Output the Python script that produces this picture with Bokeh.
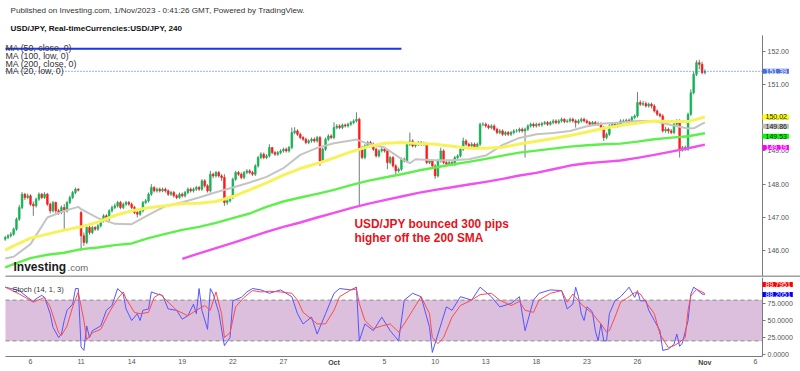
from bokeh.plotting import figure
from bokeh.models import (Range1d, FixedTicker, Label, NumeralTickFormatter, LinearAxis,
                          ColumnDataSource, BoxAnnotation)
from bokeh.layouts import column
from bokeh.embed import file_html
from bokeh.resources import INLINE

FONT = "Liberation Sans"

# ---------------- data (USD/JPY, 4h bars; bar index 0 = first bar of Sep 6) ----------
bar_index = list(range(-9, 241))
opens = [
    146.35, 146.40, 146.45,
    146.50, 146.65, 146.95, 147.30, 147.70, 147.60,
    147.65, 147.40, 147.35, 147.55, 147.70, 147.60,
    147.70, 147.40, 147.20, 147.45, 147.20, 147.15,
    147.30, 147.20, 147.45, 147.60, 147.75, 147.85,
    147.15, 146.45, 146.25, 146.70, 146.55, 146.70,
    146.65, 146.75, 146.90, 147.05, 146.95, 147.20,
    147.30, 147.35, 147.45, 147.30, 147.40, 147.45,
    147.40, 147.30, 147.15, 147.10, 147.20, 147.45,
    147.50, 147.70, 147.90, 147.80, 147.85, 147.80,
    147.85, 147.80, 147.70, 147.75, 147.65, 147.60,
    147.70, 147.65, 147.75, 147.85, 147.80, 147.85,
    147.90, 147.85, 148.10, 147.95, 147.80, 148.30,
    148.25, 148.35, 148.25, 148.20, 147.45, 147.50,
    147.60, 148.15, 148.35, 148.30, 148.20, 148.35,
    148.40, 148.35, 148.30, 148.55, 148.80, 148.90,
    148.80, 148.85, 149.10, 148.95, 148.90, 148.95,
    149.00, 149.05, 149.00, 149.10, 149.55, 149.60,
    149.50, 149.40, 149.35, 149.25, 149.30, 149.35,
    149.30, 149.40, 148.70, 149.05, 149.35, 149.45,
    149.40, 149.70, 149.75, 149.70, 149.78, 149.75,
    149.80, 149.85, 149.90, 149.95, 149.05, 148.80,
    149.15, 149.25, 149.20, 149.05, 148.85, 149.00,
    149.05, 149.00, 148.65, 148.80, 148.55, 148.40,
    148.45, 148.75, 148.70, 149.20, 149.30, 149.15,
    149.20, 149.25, 149.20, 149.22, 148.65, 148.70,
    148.55, 148.25, 148.70, 149.00, 148.65, 148.60,
    148.65, 148.60, 148.80, 148.85, 149.05, 149.30,
    149.20, 149.15, 149.20, 149.10, 149.20, 149.80,
    149.80, 149.75, 149.70, 149.75, 149.65, 149.55,
    149.60, 149.50, 149.55, 149.50, 149.55, 149.60,
    149.60, 149.65, 149.60, 149.65, 149.75, 149.80,
    149.75, 149.80, 149.78, 149.82, 149.85, 149.80,
    149.85, 149.90, 149.85, 149.90, 149.95, 149.88,
    149.90, 149.95, 149.90, 149.85, 149.90, 149.95,
    149.90, 149.85, 149.80, 149.85, 149.80, 149.82,
    149.70, 149.40, 149.50, 149.75, 149.80, 149.75,
    149.80, 149.90, 149.88, 149.92, 149.90, 150.00,
    150.05, 150.45, 150.40, 150.42, 150.35, 150.40,
    150.35, 150.20, 150.10, 150.05, 149.60, 149.65,
    149.60, 149.55, 149.80, 149.90, 149.05, 149.10,
    149.05, 150.10, 150.75, 151.30, 151.65, 151.60,
    151.35,
]
closes = [
    146.40, 146.45, 146.50,
    146.65, 146.95, 147.30, 147.70, 147.60, 147.65,
    147.40, 147.35, 147.55, 147.70, 147.60, 147.70,
    147.40, 147.20, 147.45, 147.20, 147.15, 147.30,
    147.20, 147.45, 147.60, 147.75, 147.85, 147.82,
    146.45, 146.25, 146.70, 146.55, 146.70, 146.65,
    146.75, 146.90, 147.05, 146.95, 147.20, 147.30,
    147.35, 147.45, 147.30, 147.40, 147.45, 147.40,
    147.30, 147.15, 147.10, 147.20, 147.45, 147.50,
    147.70, 147.90, 147.80, 147.85, 147.80, 147.85,
    147.80, 147.70, 147.75, 147.65, 147.60, 147.70,
    147.65, 147.75, 147.85, 147.80, 147.85, 147.90,
    147.85, 148.10, 147.95, 147.80, 148.30, 148.25,
    148.35, 148.25, 148.20, 147.45, 147.50, 147.60,
    148.15, 148.35, 148.30, 148.20, 148.35, 148.40,
    148.35, 148.30, 148.55, 148.80, 148.90, 148.80,
    148.85, 149.10, 148.95, 148.90, 148.95, 149.00,
    149.05, 149.00, 149.10, 149.55, 149.60, 149.50,
    149.40, 149.35, 149.25, 149.30, 149.35, 149.30,
    149.40, 148.70, 149.05, 149.35, 149.45, 149.40,
    149.70, 149.75, 149.70, 149.78, 149.75, 149.80,
    149.85, 149.90, 149.95, 149.05, 148.80, 149.15,
    149.25, 149.20, 149.05, 148.85, 149.00, 149.05,
    149.00, 148.65, 148.80, 148.55, 148.40, 148.45,
    148.75, 148.70, 149.20, 149.30, 149.15, 149.20,
    149.25, 149.20, 149.22, 148.65, 148.70, 148.55,
    148.25, 148.70, 149.00, 148.65, 148.60, 148.65,
    148.60, 148.80, 148.85, 149.05, 149.30, 149.20,
    149.15, 149.20, 149.10, 149.20, 149.80, 149.80,
    149.75, 149.70, 149.75, 149.65, 149.55, 149.60,
    149.50, 149.55, 149.50, 149.55, 149.60, 149.60,
    149.65, 149.60, 149.65, 149.75, 149.80, 149.75,
    149.80, 149.78, 149.82, 149.85, 149.80, 149.85,
    149.90, 149.85, 149.90, 149.95, 149.88, 149.90,
    149.95, 149.90, 149.85, 149.90, 149.95, 149.90,
    149.85, 149.80, 149.85, 149.80, 149.82, 149.70,
    149.40, 149.50, 149.75, 149.80, 149.75, 149.80,
    149.90, 149.88, 149.92, 149.90, 150.00, 150.05,
    150.45, 150.40, 150.42, 150.35, 150.40, 150.35,
    150.20, 150.10, 150.05, 149.60, 149.65, 149.60,
    149.55, 149.80, 149.90, 149.05, 149.10, 149.05,
    150.10, 150.75, 151.30, 151.65, 151.60, 151.35,
    151.39,
]
highs = [
    146.45, 146.50, 146.56,
    146.70, 147.00, 147.38, 147.76, 147.74, 147.72,
    147.70, 147.48, 147.60, 147.75, 147.74, 147.76,
    147.74, 147.45, 147.50, 147.48, 147.26, 147.36,
    147.40, 147.50, 147.66, 147.80, 147.90, 147.88,
    147.20, 146.55, 146.78, 146.76, 146.75, 146.74,
    146.80, 146.96, 147.10, 147.10, 147.25, 147.36,
    147.42, 147.50, 147.50, 147.45, 147.50, 147.50,
    147.45, 147.35, 147.20, 147.25, 147.50, 147.56,
    147.75, 148.00, 147.94, 147.90, 147.90, 147.90,
    147.90, 147.84, 147.80, 147.80, 147.70, 147.75,
    147.75, 147.80, 147.90, 147.90, 147.90, 147.95,
    147.95, 148.15, 148.15, 148.00, 148.40, 148.35,
    148.40, 148.40, 148.30, 148.30, 147.58, 147.65,
    148.20, 148.40, 148.40, 148.35, 148.40, 148.45,
    148.45, 148.40, 148.60, 148.85, 148.96, 148.95,
    148.90, 149.20, 149.12, 149.00, 149.00, 149.05,
    149.10, 149.10, 149.15, 149.70, 149.71, 149.65,
    149.55, 149.45, 149.40, 149.35, 149.40, 149.40,
    149.45, 149.45, 149.10, 149.40, 149.50, 149.50,
    149.86, 149.80, 149.80, 149.82, 149.82, 149.85,
    149.90, 149.95, 150.16, 150.00, 149.15, 149.20,
    149.30, 149.30, 149.25, 149.10, 149.05, 149.10,
    149.10, 149.05, 148.85, 148.85, 148.60, 148.50,
    148.80, 148.80, 149.25, 149.55, 149.35, 149.26,
    149.30, 149.30, 149.28, 149.25, 148.75, 148.75,
    148.60, 148.76, 149.10, 149.05, 148.70, 148.70,
    148.70, 148.85, 148.90, 149.10, 149.40, 149.35,
    149.25, 149.26, 149.25, 149.25, 149.85, 149.86,
    149.85, 149.80, 149.80, 149.80, 149.70, 149.65,
    149.65, 149.60, 149.60, 149.60, 149.65, 149.66,
    149.70, 149.70, 149.70, 149.80, 149.85, 149.85,
    149.85, 149.85, 149.87, 149.90, 149.90, 149.90,
    149.95, 149.95, 149.95, 150.00, 149.98, 149.95,
    150.00, 150.00, 149.95, 149.95, 150.00, 150.00,
    149.95, 149.90, 149.90, 149.90, 149.88, 149.86,
    149.75, 149.55, 149.80, 149.85, 149.85, 149.85,
    149.95, 149.95, 149.97, 149.97, 150.05, 150.10,
    150.77, 150.52, 150.50, 150.48, 150.45, 150.45,
    150.40, 150.25, 150.15, 150.10, 149.72, 149.70,
    149.66, 149.85, 149.95, 149.95, 149.15, 149.16,
    150.15, 150.85, 151.38, 151.72, 151.74, 151.68,
    151.45,
]
lows = [
    146.30, 146.35, 146.40,
    146.45, 146.60, 146.90, 147.25, 147.52, 147.55,
    147.35, 147.05, 147.30, 147.50, 147.55, 147.56,
    147.35, 147.12, 147.15, 147.12, 147.08, 147.10,
    146.60, 147.15, 147.40, 147.55, 147.70, 147.78,
    146.00, 146.15, 146.20, 146.48, 146.50, 146.60,
    146.60, 146.70, 146.85, 146.90, 146.90, 147.15,
    147.25, 147.30, 147.25, 147.25, 147.35, 147.35,
    147.25, 147.10, 147.00, 147.05, 147.15, 147.40,
    147.45, 147.65, 147.75, 147.75, 147.75, 147.76,
    147.75, 147.65, 147.65, 147.60, 147.55, 147.56,
    147.60, 147.60, 147.70, 147.75, 147.75, 147.80,
    147.80, 147.80, 147.90, 147.75, 147.75, 148.18,
    148.20, 148.20, 148.10, 147.35, 147.38, 147.45,
    147.55, 148.10, 148.25, 148.15, 148.15, 148.30,
    148.30, 148.25, 148.25, 148.50, 148.75, 148.75,
    148.75, 148.80, 148.90, 148.85, 148.85, 148.90,
    148.95, 148.95, 148.95, 149.05, 149.50, 149.45,
    149.35, 149.30, 149.20, 149.20, 149.25, 149.25,
    149.25, 148.55, 148.65, 149.00, 149.30, 149.35,
    149.35, 149.65, 149.65, 149.65, 149.70, 149.70,
    149.75, 149.80, 149.85, 147.35, 148.75, 148.75,
    149.10, 149.15, 149.00, 148.80, 148.80, 148.95,
    148.95, 148.45, 148.60, 148.50, 148.30, 148.35,
    148.40, 148.65, 148.65, 149.15, 149.10, 149.10,
    149.15, 149.15, 149.15, 148.60, 148.60, 148.50,
    148.16, 148.20, 148.65, 148.60, 148.55, 148.55,
    148.55, 148.55, 148.75, 148.80, 149.00, 149.15,
    149.10, 149.10, 149.05, 149.05, 149.15, 149.74,
    149.70, 149.65, 149.65, 149.60, 149.50, 149.50,
    149.45, 149.45, 149.45, 149.45, 149.50, 149.55,
    149.55, 149.55, 148.80, 149.60, 149.70, 149.70,
    149.70, 149.72, 149.73, 149.78, 149.75, 149.76,
    149.80, 149.80, 149.80, 149.85, 149.83, 149.84,
    149.85, 149.85, 149.70, 149.80, 149.85, 149.85,
    149.80, 149.75, 149.75, 149.75, 149.75, 149.65,
    149.30, 149.35, 149.45, 149.70, 149.70, 149.70,
    149.75, 149.83, 149.83, 149.85, 149.85, 149.95,
    150.00, 150.35, 150.35, 150.30, 150.30, 150.28,
    150.15, 150.05, 150.00, 149.55, 149.55, 149.52,
    149.50, 149.50, 149.75, 148.80, 148.98, 149.00,
    149.00, 150.05, 150.70, 151.25, 151.45, 151.30,
    151.30,
]

# moving averages read at the first bar of each trading day
ma_bars = [-9, -6, 0, 6, 12, 18, 24, 30, 36, 42, 48, 54, 60, 66, 72, 78, 84, 90, 96, 102,
           108, 114, 120, 126, 132, 138, 144, 150, 156, 162, 168, 174, 180, 186, 192, 198,
           204, 210, 216, 222, 228, 234, 240]
ma50_close = [146.02, 146.15, 146.38, 146.50, 146.62, 146.72, 146.86, 147.06, 147.20, 147.29,
              147.35, 147.42, 147.43, 147.48, 147.63, 147.83, 148.04, 148.27, 148.47, 148.62,
              148.79, 148.97, 149.12, 149.23, 149.25, 149.22, 149.20, 149.14, 149.08, 149.08,
              149.11, 149.21, 149.29, 149.37, 149.46, 149.57, 149.68, 149.76, 149.84, 149.90,
              149.88, 149.88, 150.02]
ma100_low = [145.50, 145.60, 145.78, 145.88, 145.94, 146.05, 146.10, 146.17, 146.22, 146.38,
             146.51, 146.63, 146.72, 146.84, 146.98, 147.12, 147.32, 147.48, 147.60, 147.71,
             147.83, 147.97, 148.10, 148.20, 148.30, 148.41, 148.50, 148.59, 148.67, 148.76,
             148.86, 148.95, 149.01, 149.07, 149.13, 149.17, 149.20, 149.22, 149.28, 149.35,
             149.40, 149.44, 149.53]
ma200_bars = [54, 60, 66, 72, 78, 84, 90, 96, 102, 108, 114, 120, 126, 132, 138, 144, 150,
              156, 162, 168, 174, 180, 186, 192, 198, 204, 210, 216, 222, 228, 234, 240]
ma200_close = [145.76, 145.92, 146.08, 146.24, 146.40, 146.57, 146.72, 146.85, 147.00, 147.14,
               147.28, 147.41, 147.52, 147.63, 147.74, 147.83, 147.91, 147.99, 148.07, 148.16,
               148.26, 148.34, 148.45, 148.56, 148.63, 148.67, 148.71, 148.79, 148.88, 148.98,
               149.08, 149.19]
ma20_low = [(-9, 145.77), (-6, 145.82), (0, 146.20), (6, 147.00), (12, 147.20), (17, 147.32),
            (18, 147.25), (24, 146.98), (30, 146.81), (36, 146.80), (42, 147.08), (48, 147.34),
            (54, 147.46), (60, 147.60), (66, 147.76), (72, 147.90), (78, 148.05), (84, 148.22),
            (90, 148.48), (96, 148.88), (102, 149.09), (108, 149.23), (114, 149.31), (116, 149.34),
            (120, 149.22), (126, 149.10), (132, 148.76), (135, 148.63), (137, 148.75), (144, 148.72),
            (150, 148.72), (156, 148.75), (162, 148.86), (168, 149.18), (174, 149.39), (180, 149.50),
            (186, 149.54), (192, 149.60), (198, 149.74), (204, 149.82), (210, 149.85), (216, 149.90),
            (222, 149.90), (228, 149.78), (234, 149.67), (236, 149.68), (240, 149.86)]

stoch_k = [(-9, 99), (-7, 97), (-4, 94), (-1, 84), (1, 78), (2, 82), (4, 87), (5, 84), (7, 60),
           (8, 40), (10, 25), (11, 30), (12, 50), (13, 65), (15, 74), (16, 97), (17, 97), (18, 11),
           (19, 6), (20, 42), (21, 25), (22, 35), (25, 42), (27, 65), (29, 72), (31, 97), (33, 89),
           (34, 67), (36, 50), (38, 60), (39, 50), (40, 65), (42, 67), (43, 92), (45, 89), (47, 87),
           (49, 67), (52, 65), (54, 52), (56, 57), (58, 74), (59, 60), (60, 97), (61, 65), (63, 37),
           (64, 97), (65, 89), (67, 62), (69, 13), (71, 25), (72, 79), (75, 84), (77, 92), (79, 97),
           (82, 95), (85, 90), (89, 95), (93, 85), (95, 60), (97, 45), (100, 55), (102, 30),
           (105, 60), (108, 90), (110, 97), (114, 95), (116, 99), (117, 20), (119, 45), (122, 35),
           (125, 55), (128, 35), (131, 20), (133, 80), (136, 90), (139, 85), (142, 40), (143, 3),
           (145, 30), (148, 70), (150, 65), (153, 85), (157, 80), (160, 99), (164, 85), (167, 70),
           (171, 75), (174, 85), (176, 35), (179, 80), (181, 90), (185, 95), (189, 94), (191, 67),
           (193, 74), (194, 99), (195, 85), (196, 60), (197, 50), (198, 70), (199, 67), (200, 62),
           (201, 35), (202, 20), (203, 45), (204, 20), (205, 20), (206, 60), (208, 79), (210, 85),
           (212, 94), (213, 99), (215, 84), (216, 94), (217, 79), (219, 79), (220, 65), (222, 50),
           (224, 35), (225, 6), (227, 8), (229, 15), (230, 30), (231, 12), (232, 17), (234, 50),
           (235, 89), (236, 99), (237, 96), (239, 89), (240, 88.2051)]
stoch_d = [(-9, 99), (-4, 89), (1, 77), (5, 84), (7, 70), (10, 32), (11, 28), (13, 42), (15, 70),
           (17, 92), (19, 50), (20, 22), (22, 32), (25, 37), (28, 62), (31, 82), (33, 92), (34, 82),
           (37, 62), (39, 60), (42, 62), (44, 84), (46, 89), (49, 77), (52, 65), (56, 57), (59, 65),
           (62, 72), (64, 65), (66, 92), (68, 60), (69, 25), (71, 32), (73, 70), (76, 84), (79, 94),
           (82, 92), (85, 93), (89, 92), (93, 90), (95, 80), (97, 62), (100, 52), (102, 45),
           (105, 45), (108, 65), (110, 85), (114, 95), (116, 96), (117, 75), (119, 50), (122, 38),
           (125, 42), (128, 45), (131, 33), (133, 45), (136, 65), (139, 85), (142, 60), (143, 25),
           (145, 16), (147, 25), (150, 55), (153, 72), (157, 80), (160, 88), (164, 90), (167, 80),
           (171, 72), (174, 78), (176, 65), (179, 62), (181, 80), (185, 90), (189, 94), (191, 77),
           (193, 89), (196, 74), (198, 67), (200, 60), (203, 45), (205, 33), (206, 35), (208, 55),
           (210, 77), (212, 82), (215, 91), (217, 89), (219, 77), (222, 60), (224, 30), (227, 10),
           (229, 13), (231, 18), (233, 25), (234, 65), (235, 86), (237, 96), (240, 89.7951)]

day_ticks = [0, 18, 36, 54, 72, 90, 126, 144, 162, 180, 198, 216, 258]
day_labels = ["6", "11", "14", "19", "22", "27", "5", "10", "13", "18", "23", "26", "6"]
month_ticks = [108, 240]
month_labels = ["Oct", "Nov"]
price_ticks = [146, 147, 148, 149, 150, 151, 152]
stoch_ticks = [0, 25, 50, 75]
drawn_line_price = 152.07
drawn_line_end_bar = 132

# ---------------- layout constants (data space of the two panels) ----------------
X0, X1 = -10.68, 274.02        # whole canvas width
X_LEFT = -8.9                  # left edge of the chart area
X_AX = 260.5                   # position of the price axis
P0, P1 = 145.198, 153.517      # price panel vertical extent
P_AXTOP = 152.47               # top end of the price axis line
P_SEP = 145.23                 # panel separator
S0, S1 = -25.0, 113.24         # stochastic panel vertical extent
S_AX = -2.94                   # time axis position
AX_COLOR = "#7a7a7a"
LBL_COLOR = "#555555"
TAG_PAD = dict(left=3, right=2, top=0, bottom=0)


def style_axis(ax):
    ax.axis_line_color = None
    ax.major_tick_line_color = AX_COLOR
    ax.major_tick_out = 3
    ax.major_tick_in = 0
    ax.minor_tick_line_color = None
    ax.major_label_text_font = FONT
    ax.major_label_text_font_size = "7px"
    ax.major_label_text_color = LBL_COLOR
    ax.major_label_standoff = 2


def tag(fig, yv, txt, bg, fg, yoff=0):
    fig.add_layout(Label(x=X_AX, y=yv, x_offset=0, y_offset=yoff, text=txt, text_font=FONT,
                         text_font_size="7px", text_color=fg, text_baseline="middle",
                         text_align="left", background_fill_color=bg, padding=TAG_PAD))


def txt(fig, x, y, t, size, color, bold=False):
    fig.add_layout(Label(x=x, y=y, x_units="screen", y_units="screen", text=t,
                         text_font=FONT, text_font_size=size, text_color=color,
                         text_font_style="bold" if bold else "normal",
                         text_baseline="alphabetic", text_align="left"))


# ---------------- price panel ----------------
p = figure(width=800, height=277, x_range=Range1d(X0, X1), y_range=Range1d(P0, P1),
           output_backend="svg", toolbar_location=None, x_axis_location=None,
           y_axis_location=None, min_border_left=0, min_border_right=0,
           min_border_top=0, min_border_bottom=0)
p.outline_line_color = None
p.grid.visible = False
pax = LinearAxis(fixed_location=X_AX, ticker=FixedTicker(ticks=price_ticks),
                 formatter=NumeralTickFormatter(format="0.00"))
style_axis(pax)
p.add_layout(pax, "right")
p.segment(x0=[X_AX], y0=[P_AXTOP], x1=[X_AX], y1=[P0], line_color=AX_COLOR, line_width=1)

tops = [max(o, c) for o, c in zip(opens, closes)]
bots = [min(o, c) for o, c in zip(opens, closes)]
cols = ["#12b456" if c >= o else "#ff1a1a" for o, c in zip(opens, closes)]
src = ColumnDataSource(dict(x=bar_index, h=highs, l=lows, top=tops, bot=bots, color=cols))

p.segment(x0="x", y0="l", x1="x", y1="h", source=src, line_color="#6f7d74", line_width=1)
p.vbar(x="x", width=0.62, top="top", bottom="bot", source=src,
       fill_color="color", line_color="color", line_width=0.6)

p.line(ma_bars, ma100_low, line_color="#5df04a", line_width=2.4)
p.line(ma200_bars, ma200_close, line_color="#f050f0", line_width=2.4)
p.line([b for b, v in ma20_low], [v for b, v in ma20_low], line_color="#c4c4c4", line_width=2)
p.line(ma_bars, ma50_close, line_color="#f8f25a", line_width=3)

p.segment(x0=[X_LEFT], y0=[drawn_line_price], x1=[drawn_line_end_bar], y1=[drawn_line_price],
          line_color="#1836ee", line_width=2)
p.segment(x0=[X_LEFT], y0=[closes[-1]], x1=[X_AX], y1=[closes[-1]],
          line_color="#3f63dc", line_width=1, line_dash="1 2")
p.segment(x0=[X_LEFT], y0=[P_SEP], x1=[X1], y1=[P_SEP], line_color="#a0a0a0", line_width=2)

tag(p, closes[-1], f"{closes[-1]:.2f}", "#4a6ee0", "white")
tag(p, ma50_close[-1], f"{ma50_close[-1]:.2f}", "#ffff00", "#222222")
tag(p, 149.86, "149.86", "#c0c0c0", "#222222", -4)
tag(p, ma100_low[-1], f"{ma100_low[-1]:.2f}", "#00ff00", "#222222", -3)
tag(p, ma200_close[-1], f"{ma200_close[-1]:.2f}", "#ff00ff", "white", -3)

txt(p, 10, 267, "Published on Investing.com, 1/Nov/2023 - 0:41:26 GMT, Powered by TradingView.", "8.1px", "#333333")
txt(p, 10, 249.3, "USD/JPY, Real-timeCurrencies:USD/JPY, 240", "8.1px", "#111111", True)
txt(p, 5, 229.5, "MA (50, close, 0)", "8.8px", "#333333")
txt(p, 5, 221.7, "MA (100, low, 0)", "8.8px", "#333333")
txt(p, 5, 213.7, "MA (200, close, 0)", "8.8px", "#333333")
txt(p, 5, 206.2, "MA (20, low, 0)", "8.8px", "#333333")
txt(p, 13, 10.3, "Investing", "12px", "#1b1b1b", True)
txt(p, 67, 10.3, ".com", "9.5px", "#666666")
txt(p, 354, 53.7, "USD/JPY bounced 300 pips", "11.9px", "#e3141c", True)
txt(p, 354, 39.7, "higher off the 200 SMA", "11.9px", "#e3141c", True)

# ---------------- stochastic panel ----------------
s = figure(width=800, height=94, x_range=p.x_range, y_range=Range1d(S0, S1),
           output_backend="svg", toolbar_location=None, x_axis_location=None,
           y_axis_location=None, min_border_left=0, min_border_right=0,
           min_border_top=0, min_border_bottom=0)
s.outline_line_color = None
s.grid.visible = False
s.add_layout(BoxAnnotation(left=X_LEFT, right=X_AX, bottom=20, top=80, fill_color="#dcbfdc",
                           fill_alpha=1.0, line_color=None, level="underlay"))
for lv in (80, 20):
    s.segment(x0=[X_LEFT], y0=[lv], x1=[X_AX], y1=[lv], line_color="#8c8c8c",
              line_width=1, line_dash="4 3")
s.line([b for b, v in stoch_k], [v for b, v in stoch_k], line_color="#5555ff", line_width=1)
s.line([b for b, v in stoch_d], [v for b, v in stoch_d], line_color="#ff4a4a", line_width=1)

sax = LinearAxis(fixed_location=X_AX, ticker=FixedTicker(ticks=stoch_ticks),
                 formatter=NumeralTickFormatter(format="0.0000"))
style_axis(sax)
s.add_layout(sax, "right")
for ticks, labels, bold in ((day_ticks, day_labels, False), (month_ticks, month_labels, True)):
    tax = LinearAxis(fixed_location=S_AX, ticker=FixedTicker(ticks=ticks),
                     major_label_overrides={t: l for t, l in zip(ticks, labels)})
    style_axis(tax)
    tax.major_tick_out = 0
    tax.major_label_standoff = 3
    if bold:
        tax.major_label_text_font_style = "bold"
        tax.major_label_text_color = "#444444"
    s.add_layout(tax, "below")
s.segment(x0=[X_AX], y0=[S1], x1=[X_AX], y1=[S_AX], line_color=AX_COLOR, line_width=1)
s.segment(x0=[X_LEFT], y0=[S_AX], x1=[X_AX], y1=[S_AX], line_color=AX_COLOR, line_width=1)

tag(s, stoch_d[-1][1], f"{stoch_d[-1][1]:.4f}", "#ff0000", "white", 9)
tag(s, stoch_k[-1][1], f"{stoch_k[-1][1]:.4f}", "#0000ff", "white", 0)
txt(s, 12, 81.7, "Stoch (14, 1, 3)", "7.5px", "#333333")

layout = column(p, s)
open("out.html", "w").write(file_html(layout, INLINE))
